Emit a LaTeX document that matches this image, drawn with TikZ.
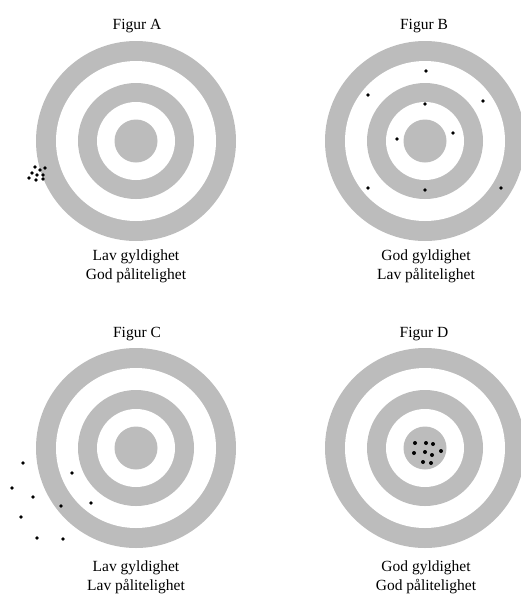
\documentclass[tikz,border=0pt]{standalone}
\usepackage{fontspec}
\setmainfont{Liberation Serif}
\usetikzlibrary{positioning}
\definecolor{ringgray}{RGB}{188,188,188}

\begin{document}
\begin{tikzpicture}[
  x=1pt, y=-1pt,
  caption/.style={
    font=\fontsize{15.5}{18.8}\selectfont,
    align=center,
    inner sep=0pt
  },
  pics/target/.style={code={
    \fill[ringgray] (0,0) circle[radius=100];
    \fill[white]    (0,0) circle[radius=80];
    \fill[ringgray] (0,0) circle[radius=58];
    \fill[white]    (0,0) circle[radius=39];
    \fill[ringgray] (0,0) circle[radius=21.5];
  }}
]
\useasboundingbox (0,0) rectangle (520,595);

\coordinate (A) at (136,141);
\coordinate (B) at (425,141);
\coordinate (C) at (136,448);
\coordinate (D) at (425,448);

\pic at (A) {target};
\pic at (B) {target};
\pic at (C) {target};
\pic at (D) {target};

% titles
\node[caption] (titleA) at (137,26)  {Figur A};
\node[caption] (titleB) at (424,26)  {Figur B};
\node[caption] (titleC) at (137,334) {Figur C};
\node[caption] (titleD) at (424,334) {Figur D};

% captions
\node[caption] (labelA) at (136,266) {Lav gyldighet\\God pålitelighet};
\node[caption] (labelB) at (426,266) {God gyldighet\\Lav pålitelighet};
\node[caption] (labelC) at (136,577) {Lav gyldighet\\Lav pålitelighet};
\node[caption] (labelD) at (426,577) {God gyldighet\\God pålitelighet};

% hits
\foreach \p in {(35,167),(40,170),(45,168),(32,173),(37,175),(43,175),(29,178),(36,180),(43,179)}
  \fill \p circle[radius=1.9];
\foreach \p in {(426,71),(368,95),(483,101),(425,104),(453,133),(397,139),(368,188),(425,190),(501,188)}
  \fill \p circle[radius=1.9];
\foreach \p in {(23,463),(72,473),(12,488),(33,497),(61,506),(91,503),(21,517),(37,538),(63,539)}
  \fill \p circle[radius=1.9];
\foreach \p in {(415,443),(426,443),(433,444),(414,453),(425,452),(432,455),(441,451),(423,462),(431,463)}
  \fill \p circle[radius=2];
\end{tikzpicture}
\end{document}
